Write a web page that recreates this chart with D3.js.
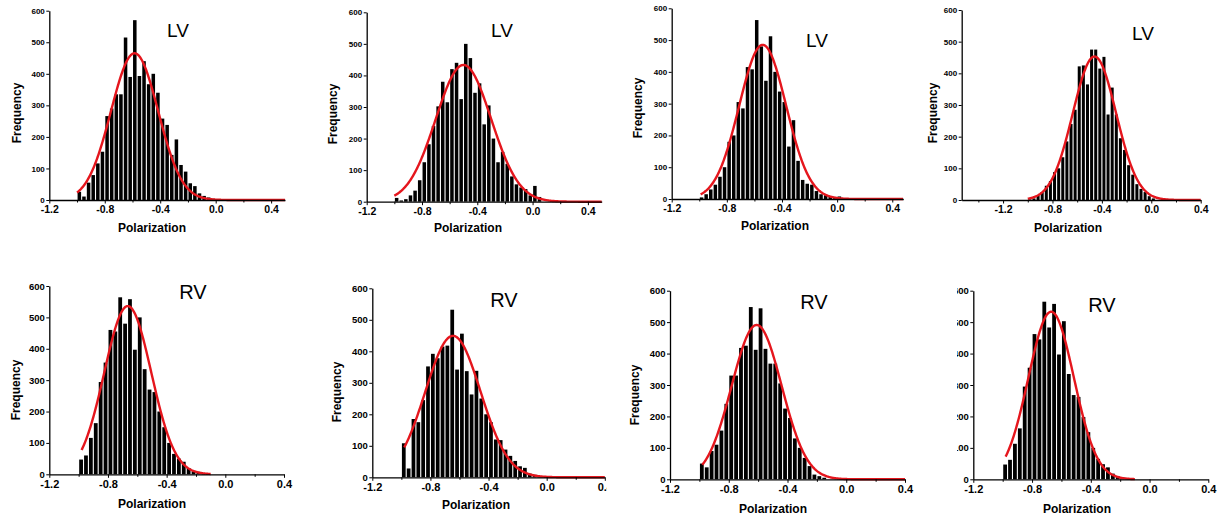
<!DOCTYPE html>
<html>
<head>
<meta charset="utf-8">
<script src="https://cdn.jsdelivr.net/npm/d3@7"></script>
<style>
  body { margin: 0; background: #fff; }
  text { font-family: "Liberation Sans", Arial, sans-serif; fill: #000; }
</style>
</head>
<body>
<svg id="chart" width="1223" height="523"></svg>
<script>
// histogram bins are 1/30 wide, first bin starts at -1.0
let binStart = -1.0;
let binStep = 1 / 30;

// bar heights (frequency) per panel
let lvA = [26, 11, 55, 79, 116, 153, 266, 290, 335, 335, 515, 390, 570, 393, 440, 367, 400, 340, 258, 238, 143, 192, 111, 90, 53, 44, 21, 13, 8, 4];
let lvB = [12, 4, 8, 20, 35, 68, 125, 182, 240, 302, 380, 315, 420, 440, 325, 500, 455, 345, 375, 245, 305, 200, 125, 158, 120, 80, 55, 45, 40, 20, 50, 15];
let lvC = [5, 15, 30, 45, 70, 100, 180, 200, 305, 285, 415, 408, 563, 480, 372, 512, 400, 338, 305, 165, 248, 120, 60, 48, 45, 25, 15, 12, 8, 3, 8, 2];
let lvD = [2, 5, 15, 25, 45, 60, 88, 100, 135, 185, 240, 285, 422, 425, 365, 475, 475, 415, 452, 270, 355, 270, 195, 158, 110, 80, 50, 35, 25, 12, 5];
let rvA = [47, 60, 116, 163, 294, 356, 460, 455, 564, 480, 558, 397, 500, 335, 270, 262, 200, 150, 100, 65, 50, 40, 20, 10, 8, 3];
let rvB = [108, 28, 185, 175, 245, 352, 392, 378, 415, 418, 532, 342, 456, 337, 263, 338, 250, 200, 175, 120, 118, 88, 68, 52, 35, 30, 12, 8, 4];
let rvC = [50, 38, 90, 110, 155, 240, 330, 330, 418, 425, 548, 412, 544, 415, 368, 368, 305, 225, 195, 130, 100, 68, 42, 15, 10, 5];
let rvD = [47, 62, 113, 162, 295, 355, 462, 445, 565, 483, 558, 397, 503, 335, 268, 262, 198, 150, 100, 65, 48, 38, 18, 10, 6, 3];

let panelData = [lvA, lvB, lvC, lvD, rvA, rvB, rvC, rvD];
let panelNames = ["LV", "LV", "LV", "LV", "RV", "RV", "RV", "RV"];

// gaussian fits (the red curves): peak height, centre, width, drawn range
let fitPeak = [465, 433, 485, 453, 536, 449, 491, 533];
let fitCenter = [-0.585, -0.5, -0.54, -0.46, -0.665, -0.645, -0.61, -0.67];
let fitSigma = [0.17, 0.2, 0.17, 0.175, 0.16, 0.19, 0.17, 0.155];
let fitFrom = [-1.0, -1.0, -0.99, -1.0, -0.98, -0.98, -0.98, -0.98];
let fitTo = [0.5, 0.5, 0.48, 0.4, -0.1, 0.4, 0.4, -0.1];

let xDomains = [[-1.2, 0.5], [-1.2, 0.5], [-1.2, 0.48], [-1.535, 0.4], [-1.2, 0.4], [-1.2, 0.4], [-1.2, 0.4], [-1.2, 0.4]];
let xTickValues = [-1.2, -0.8, -0.4, 0.0, 0.4];
let xMinorValues = [-1.4, -1.0, -0.6, -0.2, 0.2];
let yTickValues = [0, 100, 200, 300, 400, 500, 600];
let xTitle = "Polarization";
let yTitle = "Frequency";

// where each panel sits on the page
let layout = [
  {x0: 49.3, x1: 285, y0: 200, yTop: 10.7, row: 0, freq: [17, 113], name: [178, 30], xlab: [152, 228], clip: [0, 305]},
  {x0: 366.7, x1: 601.7, y0: 201.7, yTop: 12.3, row: 0, freq: [333, 114], name: [502, 30], xlab: [468, 228], clip: [305, 612]},
  {x0: 671.7, x1: 903.3, y0: 199, yTop: 8.3, row: 0, freq: [638, 108], name: [817, 40], xlab: [775, 226], clip: [612, 915]},
  {x0: 961.7, x1: 1200.7, y0: 200, yTop: 10, row: 0, freq: [933, 113], name: [1143, 33], xlab: [1068, 228], clip: [915, 1223]},
  {x0: 49.3, x1: 284, y0: 474.3, yTop: 286, row: 1, freq: [16, 390], name: [193, 292], xlab: [152, 504], clip: [0, 305]},
  {x0: 372.3, x1: 604.8, y0: 477.3, yTop: 288.3, row: 1, freq: [337, 392], name: [504, 300], xlab: [476, 505], clip: [305, 607]},
  {x0: 670, x1: 905, y0: 479.3, yTop: 290.7, row: 1, freq: [635, 395], name: [814, 302], xlab: [773, 509], clip: [612, 915]},
  {x0: 973.3, x1: 1208.3, y0: 479.3, yTop: 290.7, row: 1, freq: [942, 395], name: [1102, 305], xlab: [1077, 509], clip: [957, 1223]}
];

let svg = d3.select("#chart");

function drawPanel(i) {
  let L = layout[i];
  let values = panelData[i];
  let x = d3.scaleLinear().domain(xDomains[i]).range([L.x0, L.x1]);
  let y = d3.scaleLinear().domain([0, 600]).range([L.y0, L.yTop]);

  svg.append("clipPath").attr("id", "clip-" + i)
    .append("rect")
    .attr("x", L.clip[0]).attr("y", L.row == 0 ? 0 : 262)
    .attr("width", L.clip[1] - L.clip[0]).attr("height", 262);

  let g = svg.append("g").attr("clip-path", "url(#clip-" + i + ")");

  // bars
  let gap = 1.1;
  g.selectAll(".bar")
    .data(values)
    .enter()
    .append("rect")
    .attr("class", "bar")
    .attr("x", (d, k) => x(binStart + k * binStep) + gap / 2)
    .attr("y", d => y(d))
    .attr("width", x(binStep) - x(0) - gap)
    .attr("height", d => L.y0 - y(d))
    .style("fill", "#000");

  // fitted gaussian
  let pts = d3.range(fitFrom[i], fitTo[i] + 0.0001, 0.004);
  let line = d3.line()
    .x(v => x(v))
    .y(v => y(fitPeak[i] * Math.exp(-Math.pow(v - fitCenter[i], 2) / (2 * fitSigma[i] * fitSigma[i]))));
  g.append("path")
    .datum(pts)
    .attr("d", line)
    .style("fill", "none")
    .style("stroke", "#e5161d")
    .style("stroke-width", 2.4);

  // axes
  let xFont = L.row == 0 ? "10.5px" : "11px";
  let yFont = L.row == 0 ? "8px" : "9.5px";

  let xAxis = g.append("g")
    .attr("transform", "translate(0," + L.y0 + ")")
    .call(d3.axisBottom(x).tickValues(xTickValues).tickFormat(d => d.toFixed(1)).tickSize(3.5).tickSizeOuter(0).tickPadding(2));
  xAxis.selectAll("text").style("font-size", xFont).style("font-weight", "bold");

  let dom = xDomains[i];
  g.append("g")
    .attr("transform", "translate(0," + L.y0 + ")")
    .call(d3.axisBottom(x).tickValues(xMinorValues.filter(v => v > dom[0] && v < dom[1])).tickFormat("").tickSize(2.5).tickSizeOuter(0))
    .select(".domain").remove();

  let yAxis = g.append("g")
    .attr("transform", "translate(" + L.x0 + ",0)")
    .call(d3.axisLeft(y).tickValues(yTickValues).tickSize(3).tickSizeOuter(0).tickPadding(1.5));
  yAxis.selectAll("text").style("font-size", yFont).style("font-weight", "bold");

  g.selectAll(".domain").style("stroke", "#000").style("stroke-width", 1.3);
  g.selectAll(".tick line").style("stroke", "#000").style("stroke-width", 1);

  // titles
  g.append("text")
    .attr("x", L.xlab[0]).attr("y", L.xlab[1])
    .attr("dy", "0.35em")
    .attr("text-anchor", "middle")
    .style("font-size", "12px").style("font-weight", "bold")
    .text(xTitle);

  g.append("text")
    .attr("transform", "translate(" + L.freq[0] + "," + L.freq[1] + ") rotate(-90)")
    .attr("dy", "0.35em")
    .attr("text-anchor", "middle")
    .style("font-size", "12px").style("font-weight", "bold")
    .text(yTitle);

  g.append("text")
    .attr("x", L.name[0]).attr("y", L.name[1])
    .attr("dy", "0.35em")
    .attr("text-anchor", "middle")
    .style("font-size", L.row == 0 ? "19px" : "20px")
    .text(panelNames[i]);
}

panelData.forEach((d, i) => drawPanel(i));
</script>
</body>
</html>
